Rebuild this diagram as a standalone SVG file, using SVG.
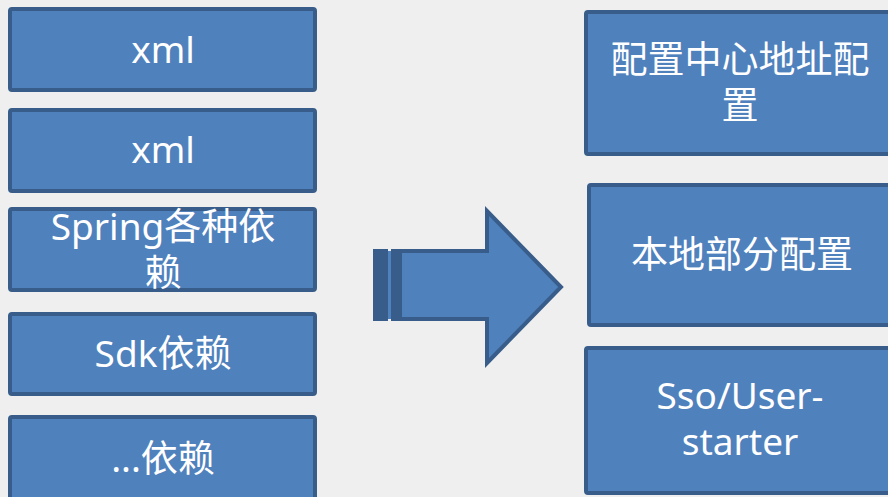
<svg xmlns="http://www.w3.org/2000/svg" width="888" height="497" viewBox="0 0 888 497">
<style>
.box{fill:#4f81bd;stroke:#385d8a;stroke-width:4}
.t{fill:#ffffff;font-family:"Noto Sans","Noto Sans CJK SC",sans-serif;font-size:37px;text-anchor:middle}
.dk{fill:#385d8a}
</style>
<rect width="888" height="497" fill="#efefef"/>
<g id="n1"><rect class="box" x="10" y="9" width="305" height="81" rx="2"/><text class="t" x="163" y="63">xml</text></g>
<g id="n2"><rect class="box" x="10" y="110" width="305" height="81" rx="2"/><text class="t" x="163" y="163">xml</text></g>
<g id="n3"><rect class="box" x="10" y="209" width="305" height="81" rx="2"/><text class="t" x="163" y="240">Spring各种依<tspan x="163" y="286">赖</tspan></text></g>
<g id="n4"><rect class="box" x="10" y="314" width="305" height="80" rx="2"/><text class="t" x="163" y="367">Sdk依赖</text></g>
<g id="n5"><rect class="box" x="10" y="417" width="305" height="90" rx="2"/><text class="t" x="163" y="472">...依赖</text></g>
<g id="arrow">
<rect class="dk" x="373" y="249" width="15" height="72"/>
<rect fill="#4f81bd" x="388" y="251" width="3" height="68"/>
<rect class="dk" x="391" y="249" width="9" height="72"/>
<path class="box" d="M400 251 H487 V211 L561 287 L487 363 V319 H400 Z"/>
</g>
<g id="r1"><rect class="box" x="586" y="12" width="310" height="142" rx="2"/><text class="t" x="740" y="73">配置中心地址配<tspan x="740" y="119">置</tspan></text></g>
<g id="r2"><rect class="box" x="589" y="185" width="310" height="140" rx="2"/><text class="t" x="742" y="268">本地部分配置</text></g>
<g id="r3"><rect class="box" x="586" y="348" width="310" height="145" rx="2"/><text class="t" x="740" y="409">Sso/User-<tspan x="740" y="455">starter</tspan></text></g>
</svg>
